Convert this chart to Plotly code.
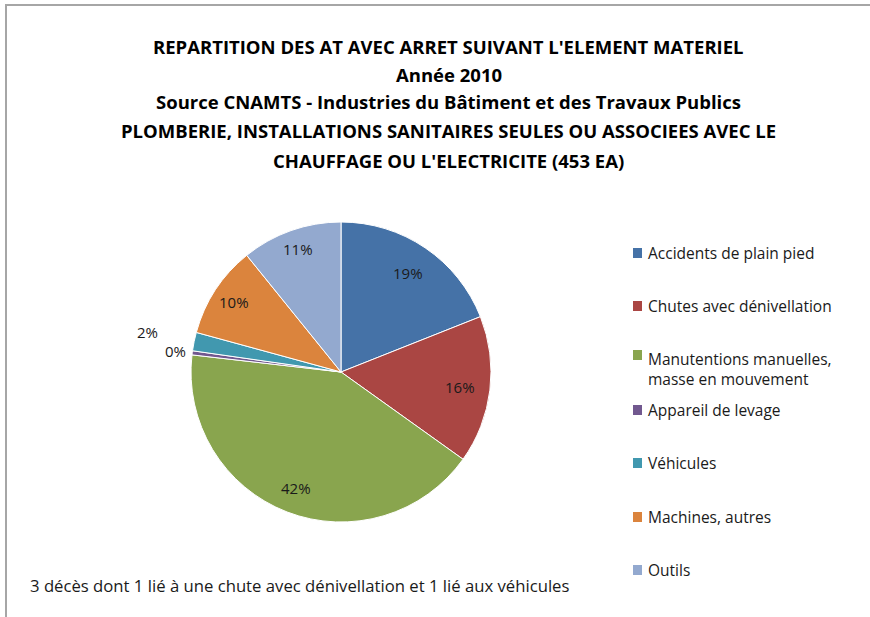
import math
import plotly.graph_objects as go

# Accidents with work stoppage by material element (453 cases)
labels = [
    "Accidents de plain pied",
    "Chutes avec dénivellation",
    "Manutentions manuelles,<br>masse en mouvement",
    "Appareil de levage",
    "Véhicules",
    "Machines, autres",
    "Outils",
]
counts = [86, 72, 190, 2, 9, 45, 49]
colors = ["#4572A7", "#AA4643", "#89A54E", "#71588F", "#4198AF", "#DB843D", "#93A9CF"]
# radial placement of each percentage label, as a fraction of the pie radius
label_radius = [0.80, 0.80, 0.83, 1.11, 1.32, 0.85, 0.87]

title_lines = [
    "REPARTITION DES AT AVEC ARRET SUIVANT L'ELEMENT MATERIEL",
    "Année 2010",
    "Source CNAMTS - Industries du Bâtiment et des Travaux Publics",
    "PLOMBERIE, INSTALLATIONS SANITAIRES SEULES OU ASSOCIEES AVEC LE",
    "CHAUFFAGE OU L'ELECTRICITE (453 EA)",
]
footnote = "3 décès dont 1 lié à une chute avec dénivellation et 1 lié aux véhicules"

W, H = 870, 617
FONT = "'Open Sans', Lato, sans-serif"
CX, CY, R = 341, 372, 150


def px(x):
    return x / W


def py(y):
    return 1 - y / H


fig = go.Figure()
fig.add_trace(go.Pie(
    labels=labels,
    values=counts,
    sort=False,
    direction="clockwise",
    rotation=0,
    marker=dict(colors=colors, line=dict(color="white", width=1)),
    textinfo="none",
    showlegend=False,
    hoverinfo="label+value+percent",
    domain=dict(x=[px(CX - R), px(CX + R)], y=[py(CY + R), py(CY - R)]),
))

annotations = []

# Percentage labels placed at each slice's mid-angle
total = sum(counts)
cum = 0
for v, rf in zip(counts, label_radius):
    mid = (cum + v / 2) / total * 2 * math.pi
    cum += v
    lx = CX + rf * R * math.sin(mid)
    ly = CY - rf * R * math.cos(mid)
    annotations.append(dict(
        text="%d%%" % round(100 * v / total), x=px(lx), y=py(ly),
        xref="paper", yref="paper", xanchor="center", yanchor="middle",
        showarrow=False, font=dict(family=FONT, size=15, color="#1a1a1a"),
    ))

title_y = [47, 74, 102, 131, 160]
for line, y in zip(title_lines, title_y):
    annotations.append(dict(
        text="<b>%s</b>" % line, x=px(449), y=py(y), xref="paper", yref="paper",
        xanchor="center", yanchor="middle", showarrow=False,
        font=dict(family=FONT, size=18.5, color="#000000"),
    ))

# Legend entries on the right
legend_y = [253, 306, 369, 410, 463, 517, 570]
shapes = []
for lab, col, y in zip(labels, colors, legend_y):
    annotations.append(dict(
        text=lab, x=px(646), y=py(y), xref="paper", yref="paper",
        xanchor="left", yanchor="middle", align="left", showarrow=False,
        font=dict(family=FONT, size=15.5, color="#1a1a1a"),
    ))
    sq_y = y if "<br>" not in lab else y - 14
    shapes.append(dict(
        type="rect", xref="paper", yref="paper",
        x0=px(633), x1=px(642), y0=py(sq_y + 5), y1=py(sq_y - 5),
        fillcolor=col, line=dict(width=0),
    ))

annotations.append(dict(
    text=footnote, x=px(28), y=py(585), xref="paper", yref="paper",
    xanchor="left", yanchor="middle", showarrow=False,
    font=dict(family=FONT, size=16.7, color="#1a1a1a"),
))

# Chart frame (top and left edges)
shapes.append(dict(type="line", xref="paper", yref="paper",
                   x0=px(5), x1=1, y0=py(5), y1=py(5),
                   line=dict(color="#A6A6A6", width=2)))
shapes.append(dict(type="line", xref="paper", yref="paper",
                   x0=px(6), x1=px(6), y0=py(4), y1=0,
                   line=dict(color="#A6A6A6", width=2)))

fig.update_layout(
    width=W, height=H,
    margin=dict(l=0, r=0, t=0, b=0),
    paper_bgcolor="white",
    plot_bgcolor="white",
    annotations=annotations,
    shapes=shapes,
)

fig.write_html("out.html")
